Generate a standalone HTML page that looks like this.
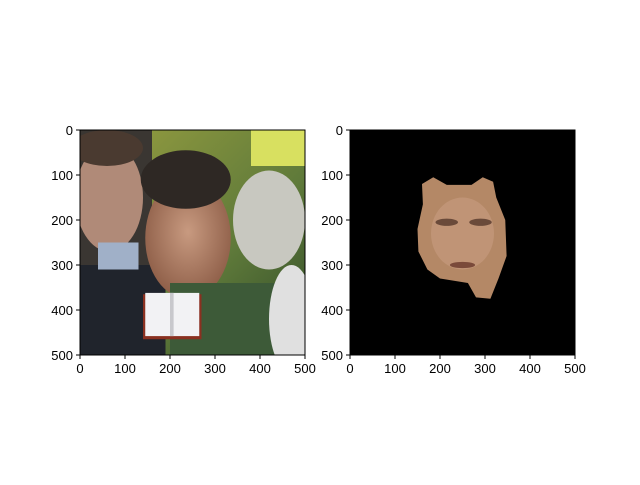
<!DOCTYPE html>
<html><head><meta charset="utf-8"><style>
body{margin:0;background:#fff}
svg text{font-family:"Liberation Sans","DejaVu Sans",sans-serif;font-size:13px;fill:#000}
</style></head><body>
<svg id="fig" width="640" height="480">
 <rect width="640" height="480" fill="#fff"/>
 <svg x="80" y="130" width="225" height="225" viewBox="0 0 500 500" preserveAspectRatio="none">
  <defs>
   <linearGradient id="bg" x1="0" y1="0" x2="1" y2="1"><stop offset="0" stop-color="#9aa040"/><stop offset="0.6" stop-color="#5f7a3a"/><stop offset="1" stop-color="#2f4a28"/></linearGradient>
   <radialGradient id="sk" cx="0.5" cy="0.45" r="0.6"><stop offset="0" stop-color="#c89a80"/><stop offset="1" stop-color="#8a5a44"/></radialGradient>
  </defs>
  <rect width="500" height="500" fill="url(#bg)"/>
  <rect x="380" y="0" width="120" height="80" fill="#d8e060"/>
  <ellipse cx="420" cy="200" rx="80" ry="110" fill="#c8c8c0"/>
  <rect x="0" y="0" width="160" height="500" fill="#3a3632"/>
  <ellipse cx="65" cy="150" rx="75" ry="120" fill="#b08a78"/>
  <ellipse cx="60" cy="40" rx="80" ry="40" fill="#4a3a30"/>
  <rect x="0" y="300" width="190" height="200" fill="#20242c"/>
  <rect x="40" y="250" width="90" height="60" fill="#a0b0c8"/>
  <ellipse cx="240" cy="240" rx="95" ry="135" fill="url(#sk)"/>
  <ellipse cx="235" cy="110" rx="100" ry="65" fill="#2e2824"/>
  <rect x="200" y="340" width="300" height="160" fill="#3d5a38"/>
  <ellipse cx="470" cy="420" rx="50" ry="120" fill="#e0e0e0"/>
  <rect x="140" y="365" width="130" height="100" fill="#8a3020"/>
  <rect x="145" y="362" width="120" height="96" fill="#f2f2f4"/>
  <rect x="200" y="362" width="8" height="96" fill="#c8c8cc"/>
 </svg>
 <svg x="350" y="130" width="225" height="225" viewBox="0 0 500 500" preserveAspectRatio="none">
  <rect width="500" height="500" fill="#000"/>
  <polygon fill="#b48866" points="160,120 185,105 215,122 270,122 295,105 318,115 325,150 345,200 348,280 330,330 312,375 280,372 262,340 200,330 172,310 152,270 150,220 162,165"/>
  <ellipse cx="250" cy="230" rx="70" ry="80" fill="#c89c80" opacity="0.6"/>
  <ellipse cx="215" cy="205" rx="25" ry="8" fill="#6a4a3a"/>
  <ellipse cx="290" cy="205" rx="25" ry="8" fill="#6a4a3a"/>
  <ellipse cx="250" cy="300" rx="28" ry="7" fill="#7a4a3a"/>
 </svg>
 <g id="axes"></g>
</svg>
<script>
const xTicks=[0,100,200,300,400,500];
const yTicks=[0,100,200,300,400,500];
const panels=[{x0:80,name:'left'},{x0:350,name:'right'}];
const axTop=130,axSize=225,axScale=axSize/500;
const NS='http://www.w3.org/2000/svg';
const axG=document.getElementById('axes');
function mk(t,a){const e=document.createElementNS(NS,t);for(const k in a)e.setAttribute(k,a[k]);axG.appendChild(e);return e;}
panels.forEach(p=>{
 const f=mk('rect',{x:p.x0,y:axTop,width:axSize,height:axSize,fill:'none',stroke:'#000','stroke-width':1});
 
 
 xTicks.forEach(v=>{const x=p.x0+v*axScale;
  mk('line',{x1:x,x2:x,y1:axTop+axSize,y2:axTop+axSize+4,stroke:'#000'});
  const t=mk('text',{x:x,y:axTop+axSize+18,'text-anchor':'middle'});t.textContent=v;
  
  });
 yTicks.forEach(v=>{const y=axTop+v*axScale;
  mk('line',{x1:p.x0-4,x2:p.x0,y1:y,y2:y,stroke:'#000'});
  const t=mk('text',{x:p.x0-7,y:y+5,'text-anchor':'end'});t.textContent=v;
  
  });
});
</script>
</body></html>
